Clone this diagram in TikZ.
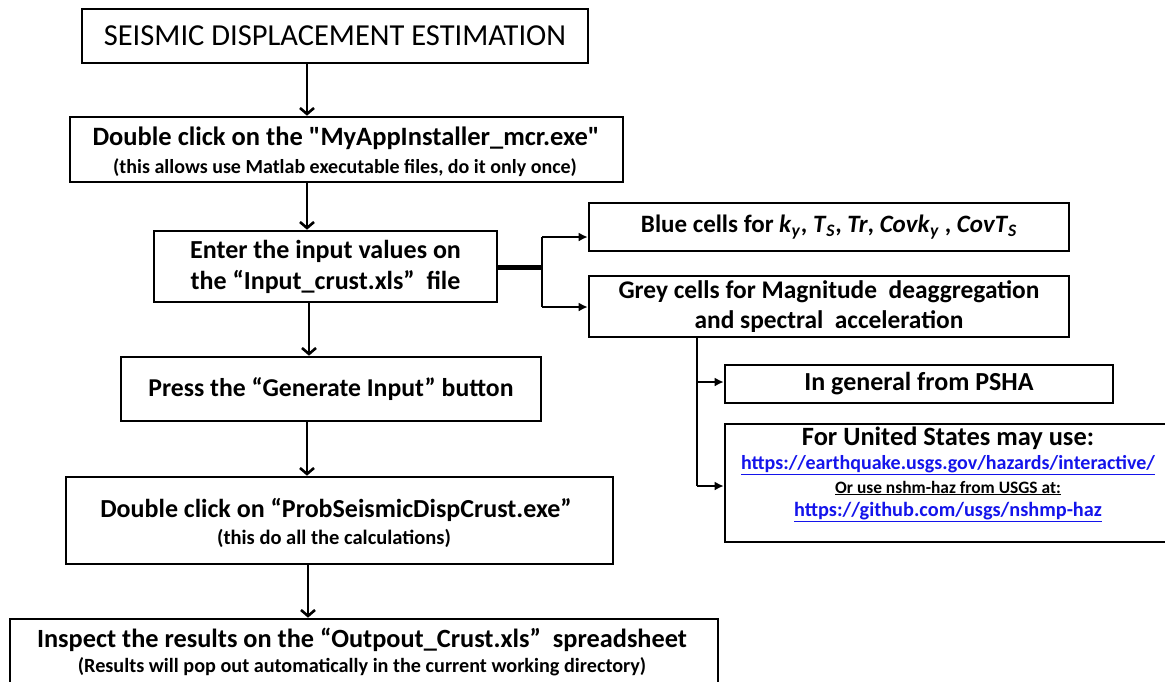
\documentclass[tikz,border=0pt]{standalone}
\usepackage{fontspec}
\setmainfont{Carlito}
\usetikzlibrary{arrows.meta}
\definecolor{linkblue}{RGB}{20,20,235}
\newcommand{\fs}[2]{\fontsize{#1}{#2}\selectfont}
\newcommand{\vsub}[2]{\textit{#1}\textsubscript{\textit{#2}}}
\newcommand{\lnk}[1]{\textcolor{linkblue}{\underline{#1}}}
\newcommand{\sq}{{\addfontfeature{Ligatures=TeXOff}"}}
\tikzset{
  box/.style={draw, line width=2.6pt, inner sep=0pt, align=center},
  lbl/.style={inner sep=0pt, align=center},
  arr/.style={line width=2.6pt, -{Straight Barb[length=6pt,width=14pt,line width=2.6pt]}},
  harr/.style={line width=2.4pt, -{Latex[length=9pt,width=9pt]}},
  ln/.style={line width=2.4pt},
  thick line/.style={line width=5pt},
}
\begin{document}
\begin{tikzpicture}[x=1pt,y=-1pt]
\useasboundingbox (0,0) rectangle (1165,681);
\clip (0,0) rectangle (1165,681);
% main column
\node[box, font=\fs{30.5}{34}, minimum width=506pt, minimum height=54pt] (b1) at (335,36) {SEISMIC DISPLACEMENT ESTIMATION};
\node[box, minimum width=553pt, minimum height=65pt] (b2) at (346.5,149.5) {};
\node[lbl, font=\bfseries\fs{26.5}{30}] (t2a) at (346,138) {Double click on the \sq MyAppInstaller\_mcr.exe\sq};
\node[lbl, font=\bfseries\fs{20}{24}] (t2b) at (345,168) {(this allows use Matlab executable files, do it only once)};
\node[box, font=\bfseries\fs{26}{31}, minimum width=343pt, minimum height=71pt] (b3) at (325.5,266.5)
  {Enter the input values on\\the “Input\_crust.xls”\ \ file};
\node[box, font=\bfseries\fs{25.7}{30}, minimum width=420pt, minimum height=64pt] (b4) at (331,389)
  {Press the “Generate Input” button};
\node[box, minimum width=547pt, minimum height=87pt] (b5) at (339.5,520.5) {};
\node[lbl, font=\bfseries\fs{26}{30}] (t5a) at (336,510) {Double click on “ProbSeismicDispCrust.exe”};
\node[lbl, font=\bfseries\fs{20.5}{24}] (t5b) at (334,538) {(this do all the calculations)};
\node[box, minimum width=708pt, minimum height=75pt] (b6) at (364,656.5) {};
\node[lbl, font=\bfseries\fs{26.3}{30}] (t6a) at (362,640) {Inspect the results on the “Outpout\_Crust.xls”\ \ spreadsheet};
\node[lbl, font=\bfseries\fs{20.2}{24}] (t6b) at (362,667) {(Results will pop out automatically in the current working directory)};
% right side
\node[box, font=\bfseries\fs{25}{30}, minimum width=480pt, minimum height=48pt] (b7) at (829,227)
  {Blue cells for \vsub{k}{y}, \vsub{T}{S}, \textit{Tr}, \vsub{Covk}{y} , \vsub{CovT}{S}};
\node[box, font=\bfseries\fs{25.4}{30}, minimum width=480pt, minimum height=61pt] (b8) at (829,306.5)
  {Grey cells for Magnitude\ \ deaggregation\\and spectral\ \ acceleration};
\node[box, font=\bfseries\fs{26}{30}, minimum width=388pt, minimum height=38pt] (b9) at (919,384)
  {In general from PSHA};
\node[box, minimum width=450pt, minimum height=118pt] (b10) at (950,483) {};
\node[lbl, font=\bfseries\fs{26.4}{30}] (t10a) at (948,438) {For United States may use:};
\node[lbl, font=\bfseries\fs{20}{24}] (t10b) at (948,465) {\lnk{https://earthquake.usgs.gov/hazards/interactive/}};
\node[lbl, font=\bfseries\fs{17.4}{20}] (t10c) at (948,488) {\underline{Or use nshm-haz from USGS at:}};
\node[lbl, font=\bfseries\fs{20.3}{24}] (t10d) at (948,512) {\lnk{https://github.com/usgs/nshmp-haz}};
% connector helper coordinates
\coordinate (xa) at (307,0);
\coordinate (xb) at (309,0);
\coordinate (xc) at (308,0);
\coordinate (j1) at (542,267);
\coordinate (j1t) at (542,237);
\coordinate (j1b) at (542,307);
\coordinate (xg) at (697,0);
\coordinate (g1) at (697,382);
\coordinate (g2) at (697,486);
% vertical arrows
\draw[arr] (b1.south -| xa) -- (b2.north -| xa);
\draw[arr] (b2.south -| xa) -- (b3.north -| xa);
\draw[arr] (b3.south -| xb) -- (b4.north -| xb);
\draw[arr] (b4.south -| xa) -- (b5.north -| xa);
\draw[arr] (b5.south -| xc) -- (b6.north -| xc);
% split to right
\draw[thick line] (b3.east |- j1) -- (j1);
\draw[ln] (j1t) -- (j1b);
\draw[harr] (j1t) -- (b7.west |- j1t);
\draw[harr] (j1b) -- (b8.west |- j1b);
\draw[ln] (b8.south -| xg) -- (g2);
\draw[harr] (g1) -- (b9.west |- g1);
\draw[harr] (g2) -- (b10.west |- g2);
\end{tikzpicture}
\end{document}
